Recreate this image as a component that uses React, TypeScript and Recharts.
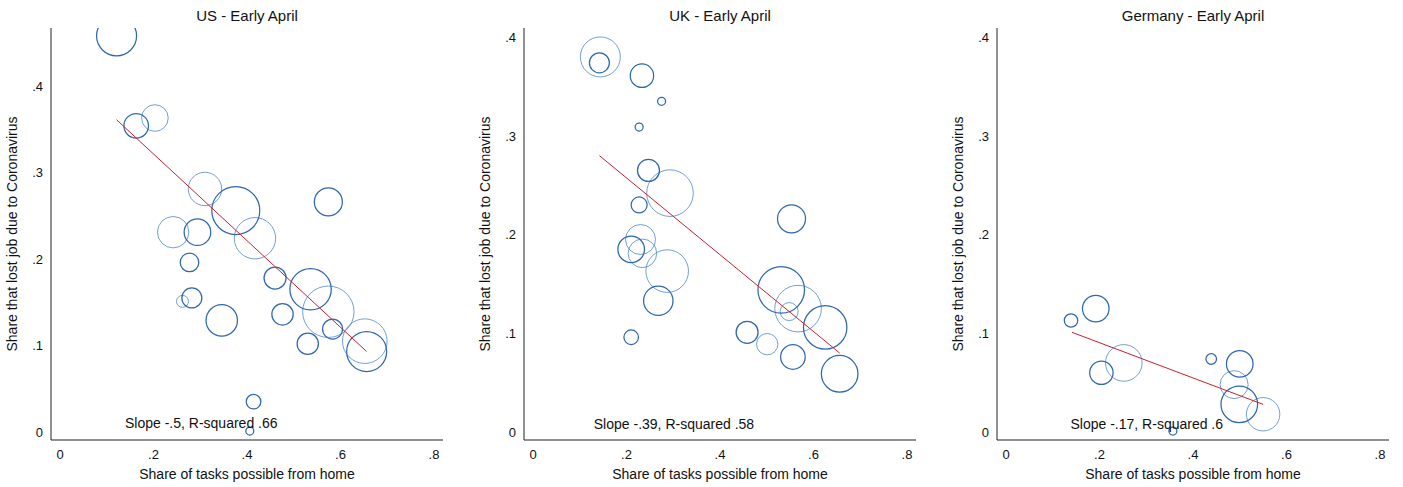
import React from 'react';
import { ScatterChart, Scatter, XAxis, YAxis, ZAxis, ReferenceDot } from 'recharts';

// Tick values
const xTicks = [0, 0.2, 0.4, 0.6, 0.8];
const yTicks = [0, 0.1, 0.2, 0.3, 0.4];

// x: share of tasks possible from home, y: share that lost job, w: weight (bubble area)
// US - Early April
const usGroupDark = [
  { x: 0.121, y: 0.458, w: 4.0 },
  { x: 0.163, y: 0.354, w: 1.51 },
  { x: 0.376, y: 0.256, w: 5.76 },
  { x: 0.294, y: 0.231, w: 1.77 },
  { x: 0.277, y: 0.196, w: 0.86 },
  { x: 0.574, y: 0.266, w: 1.96 },
  { x: 0.460, y: 0.178, w: 1.21 },
  { x: 0.536, y: 0.165, w: 4.28 },
  { x: 0.282, y: 0.155, w: 1.0 },
  { x: 0.346, y: 0.129, w: 2.46 },
  { x: 0.476, y: 0.136, w: 1.14 },
  { x: 0.583, y: 0.119, w: 1.0 },
  { x: 0.530, y: 0.102, w: 1.14 },
  { x: 0.656, y: 0.093, w: 4.0 },
  { x: 0.414, y: 0.035, w: 0.53 },
  { x: 0.406, y: 0.001, w: 0.16 },
];
const usGroupLight = [
  { x: 0.203, y: 0.363, w: 1.77 },
  { x: 0.310, y: 0.281, w: 2.79 },
  { x: 0.417, y: 0.224, w: 4.28 },
  { x: 0.242, y: 0.231, w: 2.46 },
  { x: 0.574, y: 0.139, w: 6.6 },
  { x: 0.262, y: 0.151, w: 0.36 },
  { x: 0.652, y: 0.105, w: 4.97 },
];
const usFit = [
  { x: 0.121, y: 0.361 },
  { x: 0.656, y: 0.093 },
];

// UK - Early April
const ukGroupDark = [
  { x: 0.142, y: 0.374, w: 1.0 },
  { x: 0.233, y: 0.361, w: 1.37 },
  { x: 0.275, y: 0.335, w: 0.16 },
  { x: 0.227, y: 0.309, w: 0.16 },
  { x: 0.247, y: 0.265, w: 1.21 },
  { x: 0.227, y: 0.230, w: 0.64 },
  { x: 0.553, y: 0.216, w: 1.96 },
  { x: 0.210, y: 0.185, w: 1.77 },
  { x: 0.268, y: 0.133, w: 2.16 },
  { x: 0.531, y: 0.144, w: 5.43 },
  { x: 0.625, y: 0.106, w: 4.71 },
  { x: 0.458, y: 0.101, w: 1.21 },
  { x: 0.556, y: 0.076, w: 1.51 },
  { x: 0.656, y: 0.059, w: 3.35 },
  { x: 0.210, y: 0.096, w: 0.53 },
];
const ukGroupLight = [
  { x: 0.144, y: 0.380, w: 4.0 },
  { x: 0.293, y: 0.242, w: 5.43 },
  { x: 0.230, y: 0.195, w: 2.25 },
  { x: 0.234, y: 0.181, w: 2.04 },
  { x: 0.287, y: 0.163, w: 4.54 },
  { x: 0.567, y: 0.125, w: 5.43 },
  { x: 0.548, y: 0.122, w: 0.81 },
  { x: 0.501, y: 0.089, w: 1.14 },
];
const ukFit = [
  { x: 0.142, y: 0.280 },
  { x: 0.656, y: 0.080 },
];

// Germany - Early April
const deGroupDark = [
  { x: 0.139, y: 0.113, w: 0.45 },
  { x: 0.192, y: 0.125, w: 1.77 },
  { x: 0.204, y: 0.060, w: 1.37 },
  { x: 0.439, y: 0.074, w: 0.28 },
  { x: 0.500, y: 0.069, w: 1.77 },
  { x: 0.499, y: 0.028, w: 3.35 },
  { x: 0.357, y: 0.001, w: 0.16 },
];
const deGroupLight = [
  { x: 0.252, y: 0.070, w: 3.35 },
  { x: 0.488, y: 0.048, w: 1.96 },
  { x: 0.550, y: 0.018, w: 2.79 },
];
const deFit = [
  { x: 0.141, y: 0.101 },
  { x: 0.550, y: 0.028 },
];

const FONT = '"Liberation Sans", Arial, Helvetica, sans-serif';
const DARK = '#2f67b1';
const LIGHT = '#4f86cc';
const RED = '#c8202f';

const fmt = (v: number) => (v === 0 ? '0' : String(Math.round(v * 10) / 10).replace(/^0/, '').replace(/^-0/, '-'));

const makeShape = (stroke: string, sw: number) => (p: any) => {
  const r = p.size != null ? Math.sqrt(Math.max(p.size, 0) / Math.PI) : (p.width || 0) / 2;
  return <circle cx={p.cx} cy={p.cy} r={r} fill="none" stroke={stroke} strokeWidth={sw} />;
};
const darkShape = makeShape(DARK, 1.25);
const lightShape = makeShape(LIGHT, 0.8);
const noShape = () => <g />;

type PanelProps = {
  title: string;
  dark: any[];
  light: any[];
  fit: any[];
  note: string;
  noteX: number;
  noteY: number;
  yDomain: [number, number];
  width: number;
  left: number;
};

function Panel({ title, dark, light, fit, note, noteX, noteY, yDomain, width, left }: PanelProps) {
  const height = 487;
  return (
    <div style={{ position: 'absolute', left, top: 0, width, height }}>
      <ScatterChart
        width={width}
        height={height}
        margin={{ top: 28, right: width - 443, bottom: 0, left: 0 }}
      >
        <XAxis
          type="number"
          dataKey="x"
          domain={[-0.0193, 0.8193]}
          ticks={xTicks}
          tickFormatter={fmt}
          allowDataOverflow
          height={47}
          tickLine={false}
          tickSize={0}
          tickMargin={10}
          axisLine={{ stroke: '#222', strokeWidth: 1 }}
          tick={{ fill: '#111', fontSize: 13, fontFamily: FONT }}
        />
        <YAxis
          type="number"
          dataKey="y"
          domain={yDomain}
          ticks={yTicks}
          tickFormatter={fmt}
          allowDataOverflow
          width={51}
          tickLine={false}
          tickSize={0}
          tickMargin={8}
          axisLine={{ stroke: '#222', strokeWidth: 1 }}
          tick={{ fill: '#111', fontSize: 13, fontFamily: FONT }}
        />
        <ZAxis type="number" dataKey="w" domain={[0, 10]} range={[0, 1000 * Math.PI]} />
        <Scatter data={light} shape={lightShape} isAnimationActive={false} />
        <Scatter data={dark} shape={darkShape} isAnimationActive={false} />
        <Scatter
          data={fit}
          shape={noShape}
          line={{ stroke: RED, strokeWidth: 1 }}
          lineType="joint"
          isAnimationActive={false}
        />
        <ReferenceDot
          x={noteX}
          y={noteY}
          r={0}
          ifOverflow="visible"
          shape={(p: any) => (
            <text x={p.cx} y={p.cy} fontSize={14} fontFamily={FONT} fill="#111">
              {note}
            </text>
          )}
        />
      </ScatterChart>
      <svg
        width={width}
        height={height}
        style={{ position: 'absolute', left: 0, top: 0, pointerEvents: 'none' }}
      >
        <text x={247} y={21} textAnchor="middle" fontSize={15} fontFamily={FONT} fill="#111">
          {title}
        </text>
        <text x={247} y={479} textAnchor="middle" fontSize={14} fontFamily={FONT} fill="#111">
          Share of tasks possible from home
        </text>
        <text
          x={17}
          y={234}
          textAnchor="middle"
          fontSize={14}
          fontFamily={FONT}
          fill="#111"
          transform="rotate(-90 17 234)"
        >
          Share that lost job due to Coronavirus
        </text>
      </svg>
    </div>
  );
}

export default function App() {
  return (
    <div
      style={{
        position: 'absolute',
        left: 0,
        top: 0,
        width: 1403,
        height: 487,
        background: '#fff',
        overflow: 'hidden',
      }}
    >
      <Panel
        title="US - Early April"
        dark={usGroupDark}
        light={usGroupLight}
        fit={usFit}
        note="Slope -.5, R-squared .66"
        noteX={0.139}
        noteY={0.004}
        yDomain={[-0.0093, 0.4671]}
        width={470}
        left={0}
      />
      <Panel
        title="UK - Early April"
        dark={ukGroupDark}
        light={ukGroupLight}
        fit={ukFit}
        note="Slope -.39, R-squared .58"
        noteX={0.13}
        noteY={0.0035}
        yDomain={[-0.0081, 0.4093]}
        width={470}
        left={473}
      />
      <Panel
        title="Germany - Early April"
        dark={deGroupDark}
        light={deGroupLight}
        fit={deFit}
        note="Slope -.17, R-squared .6"
        noteX={0.138}
        noteY={0.0035}
        yDomain={[-0.0081, 0.4093]}
        width={457}
        left={946}
      />
    </div>
  );
}
